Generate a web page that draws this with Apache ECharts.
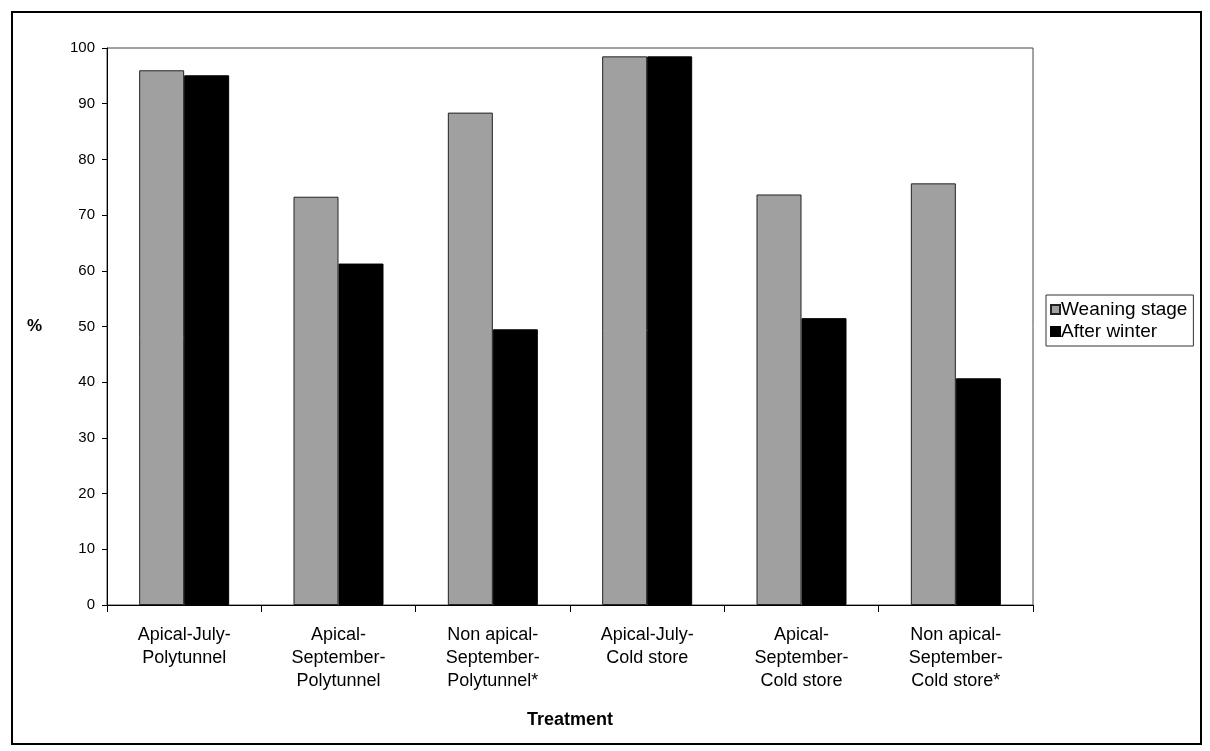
<!DOCTYPE html>
<html><head><meta charset="utf-8">
<script src="https://cdn.jsdelivr.net/npm/echarts@6/dist/echarts.min.js"></script>
<style>html,body{margin:0;padding:0;background:#fff}#c{width:1210px;height:751px}</style>
</head><body><div id="c"></div>
<script>
const categories = ["Apical-July-\nPolytunnel","Apical-\nSeptember-\nPolytunnel","Non apical-\nSeptember-\nPolytunnel*","Apical-July-\nCold store","Apical-\nSeptember-\nCold store","Non apical-\nSeptember-\nCold store*"];
const weaningStage = [96, 73.3, 88.4, 98.5, 73.7, 75.7];
const afterWinter = [95.1, 61.3, 49.5, 98.5, 51.5, 40.7];
const yTicks = {min: 0, max: 100, interval: 10};

const chart = echarts.init(document.getElementById('c'), null, {renderer: 'canvas'});
chart.setOption({
  animation: false,
  backgroundColor: '#fff',
  textStyle: {fontFamily: 'Liberation Sans, Arial, sans-serif'},
  graphic: [{type: 'rect', shape: {x: 12, y: 12, width: 1189, height: 732}, style: {fill: 'none', stroke: '#000', lineWidth: 2}, silent: true}],
  grid: {left: 107, right: 177, top: 48, bottom: 146, show: true, borderColor: '#444', borderWidth: 1},
  legend: {
    orient: 'vertical', left: 1046, top: 295,
    icon: 'rect', itemWidth: 9, itemHeight: 9, itemGap: 3,
    borderColor: '#333', borderWidth: 1, padding: [5, 6, 5, 4],
    textStyle: {fontSize: 19, color: '#000', padding: [0, 0, 0, -4]},
    data: ['Weaning stage', 'After winter']
  },
  xAxis: {
    type: 'category', data: categories,
    axisLine: {lineStyle: {color: '#000', width: 1}},
    axisTick: {show: true, alignWithLabel: false, length: 7, lineStyle: {color: '#000'}},
    axisLabel: {color: '#000', fontSize: 18, lineHeight: 23, margin: 19, interval: 0},
    name: 'Treatment', nameLocation: 'middle', nameGap: 106,
    nameTextStyle: {fontSize: 18, fontWeight: 'bold', color: '#000'}
  },
  yAxis: {
    type: 'value', min: yTicks.min, max: yTicks.max, interval: yTicks.interval,
    splitLine: {show: false},
    axisLine: {show: true, lineStyle: {color: '#000', width: 1}},
    axisTick: {show: true, length: 5, lineStyle: {color: '#000'}},
    axisLabel: {color: '#000', fontSize: 15, margin: 12},
    name: '%', nameLocation: 'middle', nameRotate: 0, nameGap: 65,
    nameTextStyle: {fontSize: 17, fontWeight: 'bold', color: '#000'}
  },
  series: [
    {name: 'Weaning stage', type: 'bar', data: weaningStage, barWidth: 45, barGap: '0%',
     itemStyle: {color: '#a0a0a0', borderColor: '#222', borderWidth: 1}},
    {name: 'After winter', type: 'bar', data: afterWinter, barWidth: 45,
     itemStyle: {color: '#000', borderColor: '#000', borderWidth: 1}}
  ]
});
</script></body></html>
